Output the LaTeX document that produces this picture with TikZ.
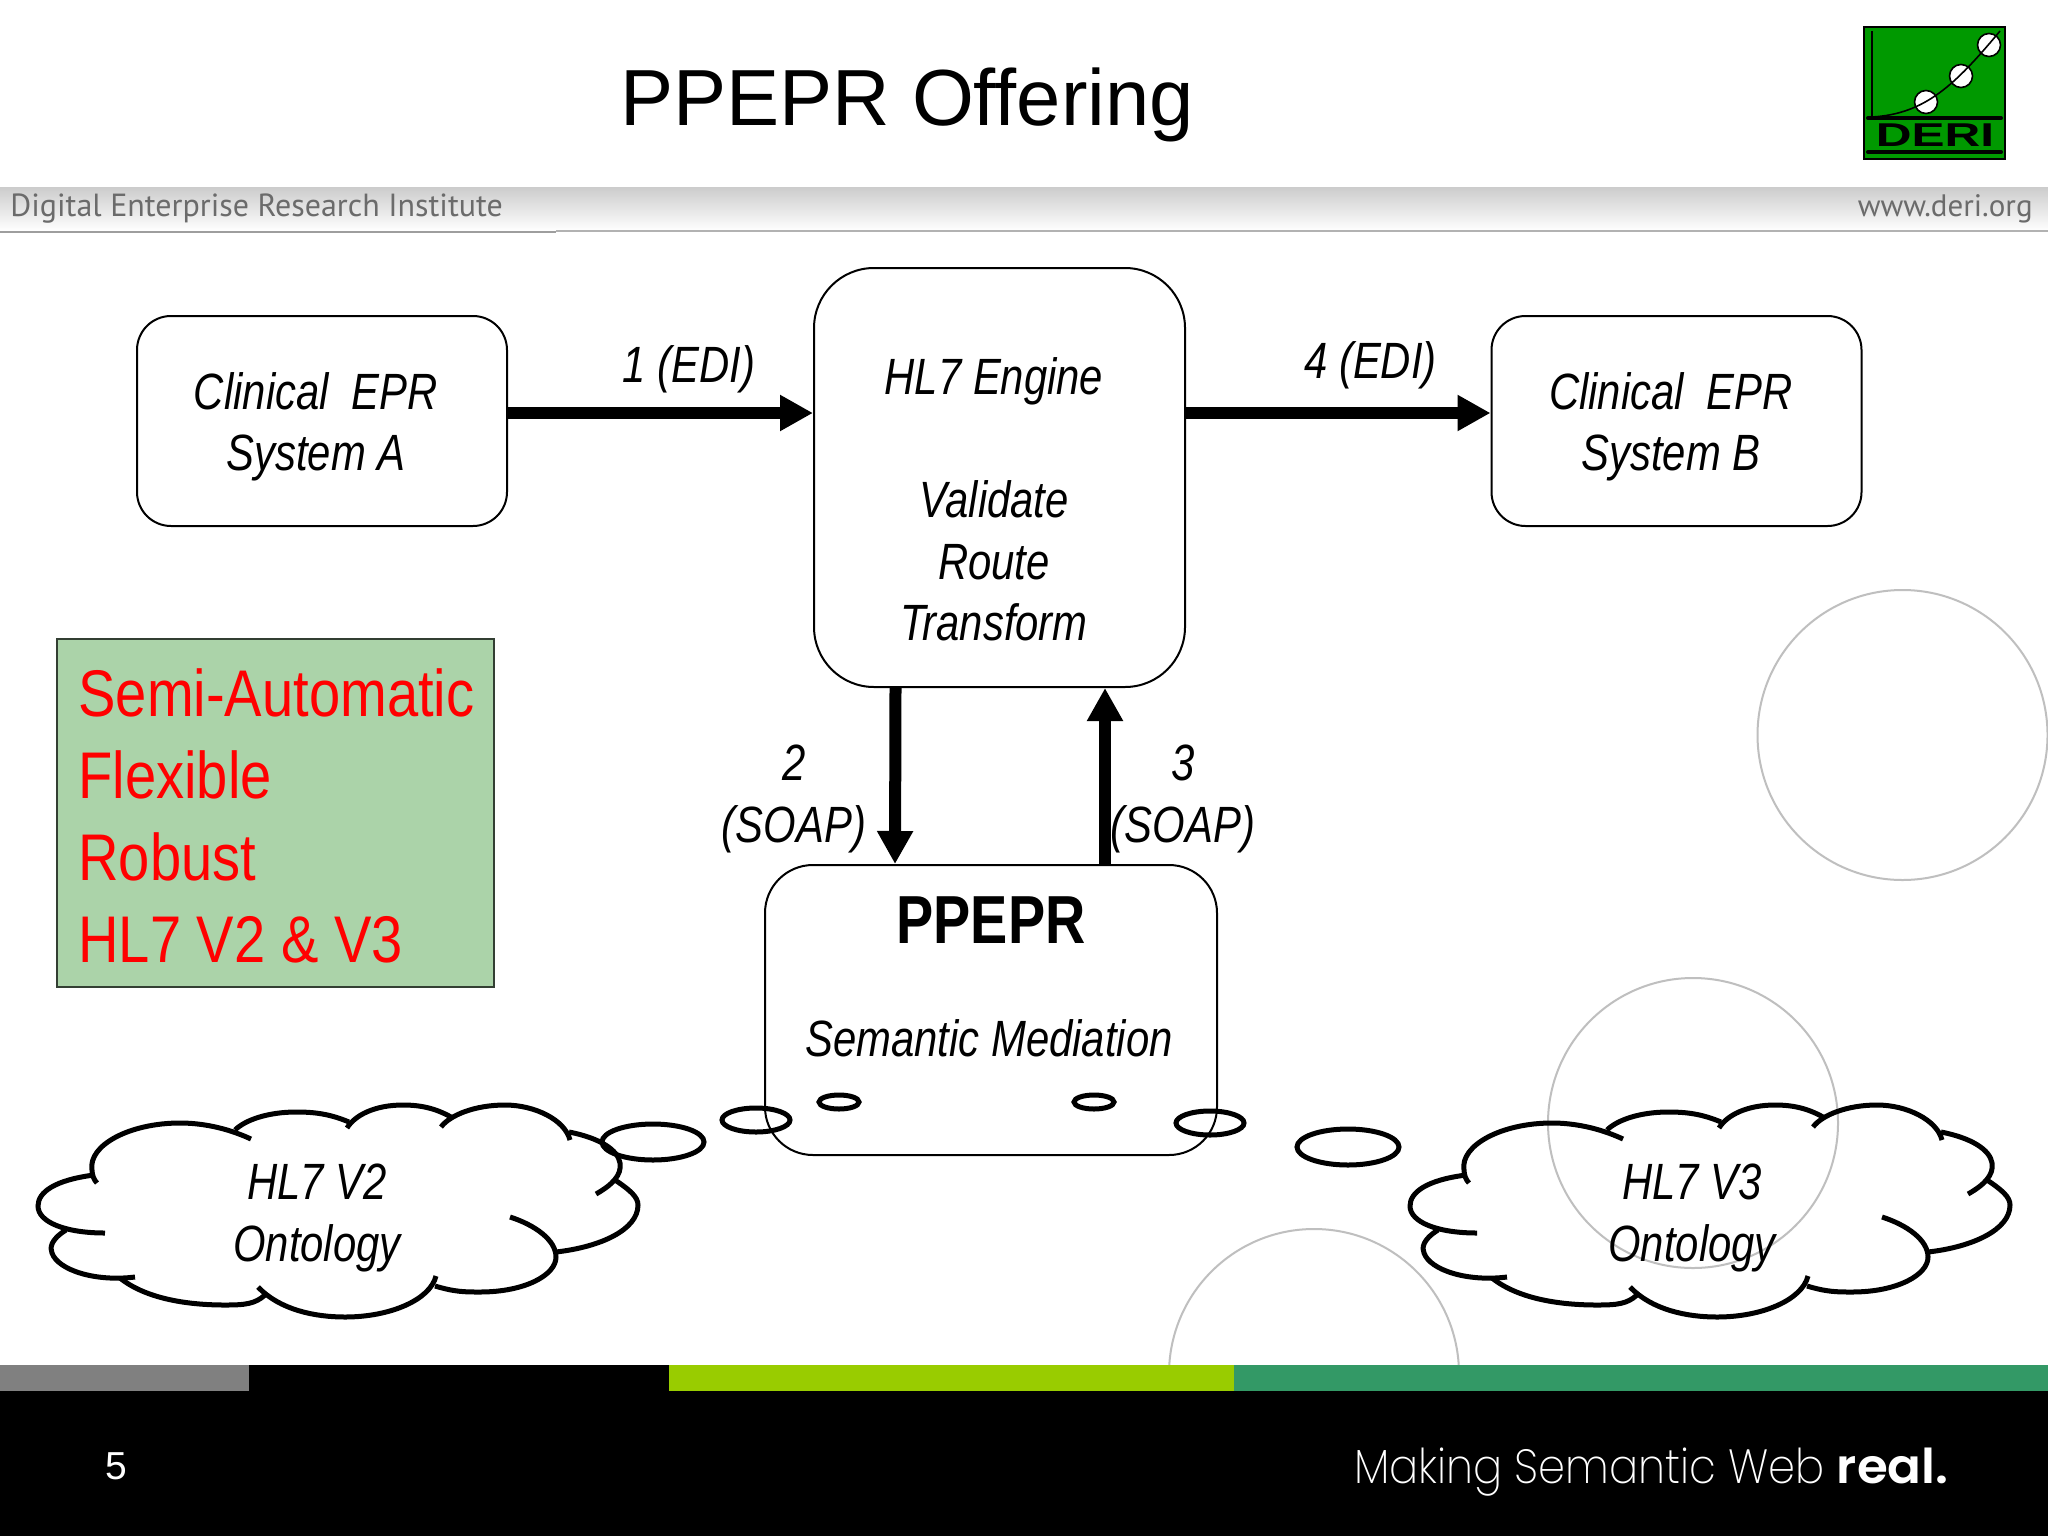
\documentclass[tikz,border=0pt]{standalone}
\usepackage{fontspec}
\setmainfont{Liberation Sans}
\newfontfamily\slidefont[FakeStretch=0.82]{Liberation Sans}
\newfontfamily\panelfont[FakeStretch=0.85]{Liberation Sans}
\newfontfamily\headfont{PT Sans}
\newfontfamily\tagfont[FakeStretch=0.9]{Poppins ExtraLight}
\newfontfamily\tagboldfont[FakeStretch=1.04]{Poppins SemiBold}
\newfontfamily\derifont[FakeStretch=1.5]{Liberation Sans}
\usetikzlibrary{arrows.meta,positioning,calc}
\definecolor{barlime}{HTML}{99CC00}
\definecolor{bargreen}{HTML}{339966}
\definecolor{callfill}{HTML}{ABD3A9}
\definecolor{logogreen}{HTML}{009900}

\tikzset{
  ontocloud/.pic={
    \draw[cloudline] (94,1175) .. controls (55,1180) and (38,1192) .. (38,1206) .. controls (38,1222) and (65,1233) .. (105,1233);
    \draw[cloudline] (66,1230) .. controls (50,1240) and (50,1248) .. (52,1253) .. controls (58,1270) and (95,1282) .. (135,1277);
    \draw[cloudline] (120,1278) .. controls (145,1298) and (185,1305) .. (225,1305) .. controls (245,1305) and (255,1304) .. (265,1295);
    \draw[cloudline] (258,1287) .. controls (280,1310) and (315,1317) .. (345,1317) .. controls (390,1317) and (430,1300) .. (436,1276);
    \draw[cloudline] (435,1286) .. controls (455,1292) and (465,1292) .. (480,1292) .. controls (525,1292) and (556,1275) .. (556,1257) .. controls (556,1240) and (535,1225) .. (510,1217);
    \draw[cloudline] (556,1252) .. controls (600,1247) and (638,1230) .. (638,1205) .. controls (638,1197) and (630,1190) .. (615,1180);
    \draw[cloudline] (596,1194) .. controls (612,1185) and (622,1175) .. (620,1163) .. controls (618,1150) and (600,1138) .. (569,1132);
    \draw[cloudline] (570,1140) .. controls (565,1120) and (535,1105) .. (505,1105) .. controls (475,1105) and (450,1115) .. (441,1127);
    \draw[cloudline] (451,1117) .. controls (435,1108) and (420,1105) .. (403,1105) .. controls (375,1105) and (355,1115) .. (347,1128);
    \draw[cloudline] (349,1122) .. controls (330,1114) and (315,1112) .. (296,1112) .. controls (268,1112) and (245,1120) .. (235,1130);
    \draw[cloudline] (251,1139) .. controls (225,1127) and (200,1123) .. (180,1123) .. controls (130,1123) and (88,1145) .. (92,1170) .. controls (92,1175) and (94,1180) .. (97,1183);
  }
}

\begin{document}
\begin{tikzpicture}[x=0.5pt,y=-0.5pt,line cap=butt]
\tikzstyle{cloudline}=[line width=2.5pt,black]
\tikzstyle{box}=[draw,line width=1pt,rounded corners=17pt,inner sep=0pt]
\tikzstyle{boxtext}=[font=\slidefont\itshape\fontsize{25.5}{30.7}\selectfont,align=center,inner sep=0pt]
\tikzstyle{flow}=[line width=6pt,-{Triangle[length=16.5pt,width=17pt]}]
\tikzstyle{ring}=[draw=black!25,line width=1pt]
\tikzstyle{bar}=[anchor=north west,inner sep=0pt,outer sep=0pt,minimum height=13pt]
\useasboundingbox (0,0) rectangle (2048,1536);
\fill[white] (0,0) rectangle (2048,1536);
%
% backdrop
\draw[ring] (1902.5,735) circle [radius=145];
\draw[ring] (1693,1123) circle [radius=145];
\draw[ring] (1314,1374) circle [radius=145];
\shade[top color=black!20,bottom color=white] (0,187) rectangle (2048,231);
\draw[black!38,line width=1pt] (0,232) -- (556,232);
\draw[black!30,line width=1pt] (556,231) -- (2048,231);
\fill[black] (0,1391) rectangle (2048,1536);
\node[bar,fill=black!50,minimum width=124.5pt] (bar0) at (0,1365) {};
\node[bar,fill=black,minimum width=210pt] (bar1) [right=0pt of bar0.north east,anchor=north west] {};
\node[bar,fill=barlime,minimum width=282.5pt] (bar2) [right=0pt of bar1.north east,anchor=north west] {};
\node[bar,fill=bargreen,minimum width=407pt] (bar3) [right=0pt of bar2.north east,anchor=north west] {};
%
% header and footer texts
\node[anchor=base,font=\fontsize{39.8}{46}\selectfont,inner sep=0pt] (title) at (907,126) {PPEPR Offering};
\node[anchor=base west,font=\headfont\fontsize{16}{18}\selectfont,text=black!58,inner sep=0pt] (dept) at (10,216) {Digital Enterprise Research Institute};
\node[anchor=base east,font=\headfont\fontsize{15.5}{18}\selectfont,text=black!58,inner sep=0pt] (site) at (2033,216) {www.deri.org};
\node[anchor=base,font=\fontsize{19.5}{22}\selectfont,text=white,inner sep=0pt] (pagenum) at (116,1479) {5};
\node[anchor=base east,font=\fontsize{24}{28}\selectfont,text=white,inner sep=0pt] (motto) at (1949,1483) {\tagfont Making Semantic Web \tagboldfont real.};
%
% logo
\node[draw=black,fill=logogreen,line width=1pt,anchor=north west,inner sep=0pt,minimum width=70.5pt,minimum height=66pt] (logo) at (1863,26) {};
\draw[line width=0.8pt] (1872,31) -- (1872,117);
\node[draw,fill=white,circle,line width=0.8pt,minimum size=11.5pt,inner sep=0pt] (dot1) at (1926,102) {};
\node[draw,fill=white,circle,line width=0.8pt,minimum size=11.5pt,inner sep=0pt] (dot2) at (1961,76) {};
\node[draw,fill=white,circle,line width=0.8pt,minimum size=11.5pt,inner sep=0pt] (dot3) at (1989,45) {};
\draw[line width=0.8pt] (1872,117) .. controls (1925,114) and (1955,85) .. (2000,31);
\draw[line width=2pt,line cap=round] (1868,118) -- (2001,118);
\draw[line width=2pt,line cap=round] (1868,152) -- (2001,152);
\node[font=\derifont\fontsize{16.5}{18}\selectfont,inner sep=0pt,anchor=base] (deri) at (1935,147) {\textbf{DERI}};
%
% boxes
\node[box,minimum width=185pt,minimum height=105pt] (sysa) at (322,421) {};
\node[boxtext] (sysalab) at (316,427) {Clinical\ \ EPR\\System A};
\node[box,rounded corners=30pt,minimum width=185.5pt,minimum height=209.5pt] (engine) at (999.5,477.5) {};
\node[boxtext] (enginelab) at (994,499.5) {HL7 Engine\\[30.7pt]Validate\\Route\\Transform};
\node[box,minimum width=185pt,minimum height=105pt] (sysb) at (1676.5,421) {};
\node[boxtext] (sysblab) at (1671,427) {Clinical\ \ EPR\\System B};
\node[box,rounded corners=24pt,minimum width=226pt,minimum height=145pt] (ppepr) at (991,1010) {};
\node[boxtext,font=\slidefont\bfseries\fontsize{34}{40}\selectfont] (ppeprlab) at (991,920) {PPEPR};
\node[boxtext] (medlab) at (989,1038) {Semantic Mediation};
%
% arrows
\draw[flow] ([yshift=4pt]sysa.east) -- ([yshift=32.25pt]engine.west) node[pos=.593,above=7pt,boxtext] (edi1) {1 (EDI)};
\draw[flow] ([yshift=32.25pt]engine.east) -- ([yshift=4pt]sysb.west) node[pos=.606,above=9pt,boxtext] (edi4) {4 (EDI)};
\draw[flow] ([xshift=-52pt]engine.south) -- (ppepr.north -| {895,0}) ;
\draw[flow] (ppepr.north -| {1105,0}) -- ([xshift=52.75pt]engine.south);
\node[boxtext] (soap2) at (794,799) {2\\(SOAP)};
\node[boxtext] (soap3) at (1183,799) {3\\(SOAP)};
%
% green panel
\node[draw=black!70!callfill,fill=callfill,line width=1pt,inner sep=0pt,minimum width=218.5pt,minimum height=174pt] (panel) at (275.5,813) {};
\node[anchor=west,inner sep=0pt,align=left,text=red,font=\panelfont\fontsize{33}{41}\selectfont] (panellab) at ([xshift=11pt,yshift=-1.5pt]panel.west) {Semi-Automatic\\Flexible\\Robust\\HL7 V2 \& V3};
%
% clouds
\pic (cloudv2) at (0,0) {ontocloud};
\pic (cloudv3) at (1372,0) {ontocloud};
\node[boxtext] (v2lab) at (317,1218) {HL7 V2\\Ontology};
\node[boxtext] (v3lab) at (1692,1218) {HL7 V3\\Ontology};
%
% small bubbles
\draw[cloudline] (653,1142) ellipse [x radius=51,y radius=18];
\draw[cloudline] (1348,1147) ellipse [x radius=51,y radius=18];
\draw[cloudline] (756,1120) ellipse [x radius=34,y radius=12];
\draw[cloudline] (1210,1123) ellipse [x radius=34,y radius=12];
\draw[cloudline] (839,1102) ellipse [x radius=20,y radius=7];
\draw[cloudline] (1094,1102) ellipse [x radius=20,y radius=7];
\end{tikzpicture}
\end{document}
